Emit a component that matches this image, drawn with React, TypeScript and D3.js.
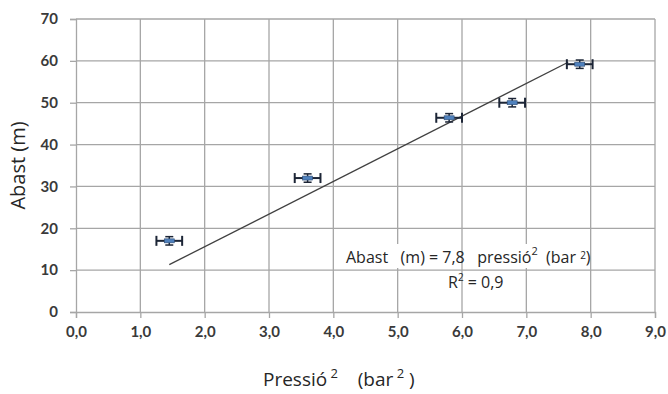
import React, { useEffect, useRef } from 'react';
import * as d3 from 'd3';

// pressure squared (bar^2) vs reach (m)
const pressio = [1.45, 3.6, 5.8, 6.78, 7.83];
const abast = [17.0, 32.0, 46.4, 50.0, 59.2];
const errX = [0.2, 0.2, 0.2, 0.2, 0.2];
const errY = [1.0, 1.0, 1.0, 1.0, 1.0];
const trendRange = [1.45, 7.65];
const slope = 7.8;
const xTicks = [0, 1, 2, 3, 4, 5, 6, 7, 8, 9];
const yTicks = [0, 10, 20, 30, 40, 50, 60, 70];

const App = () => {
  const ref = useRef<SVGSVGElement>(null);

  useEffect(() => {
    const svg = d3.select(ref.current);
    svg.selectAll('*').remove();

    const x = d3.scaleLinear().domain([0, 9]).range([76, 655]);
    const y = d3.scaleLinear().domain([0, 70]).range([312, 19]);
    const grid = '#a6a6a6';

    // gridlines
    svg.append('g').selectAll('line').data(xTicks.slice(1)).join('line')
      .attr('x1', d => x(d)).attr('x2', d => x(d))
      .attr('y1', y(70)).attr('y2', y(0))
      .attr('stroke', grid).attr('stroke-width', 1.3);
    svg.append('g').selectAll('line').data(yTicks.slice(1)).join('line')
      .attr('x1', x(0)).attr('x2', x(9))
      .attr('y1', d => y(d)).attr('y2', d => y(d))
      .attr('stroke', grid).attr('stroke-width', 1.3);

    // axes
    const xAxis = d3.axisBottom(x).tickValues(xTicks).tickSize(6)
      .tickFormat(d => d3.format('.1f')(d as number).replace('.', ','));
    const gx = svg.append('g').attr('transform', `translate(0,${y(0)})`).call(xAxis);
    gx.select('.domain').attr('stroke', grid).attr('stroke-width', 1.3);
    gx.selectAll('.tick line').attr('stroke', grid).attr('stroke-width', 1.3);
    gx.selectAll('.tick text').attr('dy', '1.05em');

    const yAxis = d3.axisLeft(y).tickValues(yTicks).tickSize(6).tickPadding(12);
    const gy = svg.append('g').attr('transform', `translate(${x(0)},0)`).call(yAxis);
    gy.select('.domain').attr('stroke', grid).attr('stroke-width', 1.3);
    gy.selectAll('.tick line').attr('stroke', grid).attr('stroke-width', 1.3);

    svg.selectAll('.tick text')
      .attr('fill', '#3a3a3a')
      .style('font', 'bold 15px Lato');

    // trendline
    svg.append('line')
      .attr('x1', x(trendRange[0])).attr('y1', y(slope * trendRange[0]))
      .attr('x2', x(trendRange[1])).attr('y2', y(slope * trendRange[1]))
      .attr('stroke', '#404040').attr('stroke-width', 1.3);

    // error bars + markers
    const pts = pressio.map((p, i) => ({ p, a: abast[i], ex: errX[i], ey: errY[i] }));
    const g = svg.append('g').selectAll('g').data(pts).join('g');
    const ink = '#1c2536';
    g.append('line')
      .attr('x1', d => x(d.p - d.ex)).attr('x2', d => x(d.p + d.ex))
      .attr('y1', d => y(d.a)).attr('y2', d => y(d.a))
      .attr('stroke', ink).attr('stroke-width', 2);
    g.append('line')
      .attr('x1', d => x(d.p - d.ex)).attr('x2', d => x(d.p - d.ex))
      .attr('y1', d => y(d.a) - 5).attr('y2', d => y(d.a) + 5)
      .attr('stroke', ink).attr('stroke-width', 2);
    g.append('line')
      .attr('x1', d => x(d.p + d.ex)).attr('x2', d => x(d.p + d.ex))
      .attr('y1', d => y(d.a) - 5).attr('y2', d => y(d.a) + 5)
      .attr('stroke', ink).attr('stroke-width', 2);
    g.append('line')
      .attr('x1', d => x(d.p)).attr('x2', d => x(d.p))
      .attr('y1', d => y(d.a + d.ey)).attr('y2', d => y(d.a - d.ey))
      .attr('stroke', ink).attr('stroke-width', 1.5);
    [1, -1].forEach(s => {
      g.append('line')
        .attr('x1', d => x(d.p) - 4).attr('x2', d => x(d.p) + 4)
        .attr('y1', d => y(d.a + s * d.ey)).attr('y2', d => y(d.a + s * d.ey))
        .attr('stroke', ink).attr('stroke-width', 1.5);
    });
    g.append('rect')
      .attr('x', d => x(d.p) - 5).attr('y', d => y(d.a) - 2)
      .attr('width', 10).attr('height', 4)
      .attr('fill', '#4f81bd').attr('stroke', '#2c4a73').attr('stroke-width', 0.6);

    // equation label
    svg.append('rect').attr('x', 340).attr('y', 244).attr('width', 282).attr('height', 24)
      .attr('fill', '#fff');
    [6, 8].forEach(v => svg.append('line')
      .attr('x1', x(v)).attr('x2', x(v)).attr('y1', 244).attr('y2', 268)
      .attr('stroke', grid).attr('stroke-width', 1.3));

    const eq = svg.append('text').attr('x', 346).attr('y', 263)
      .attr('fill', '#262626').style('font', '16px "Open Sans"').style('white-space', 'pre');
    eq.append('tspan').text('Abast   (m) = 7,8   pressió');
    eq.append('tspan').attr('dy', -8).style('font-size', '11px').text('2');
    eq.append('tspan').attr('dy', 8).text('  (bar ');
    eq.append('tspan').attr('dy', -4).style('font-size', '10px').text('2');
    eq.append('tspan').attr('dy', 4).text(')');

    const r2 = svg.append('text').attr('x', 448).attr('y', 288)
      .attr('fill', '#262626').style('font', '16px "Open Sans"').style('white-space', 'pre');
    r2.append('tspan').text('R');
    r2.append('tspan').attr('dy', -7).style('font-size', '10px').text('2');
    r2.append('tspan').attr('dy', 7).text(' = 0,9');

    // axis titles
    svg.append('text')
      .attr('transform', `translate(25,${y(35)}) rotate(-90)`)
      .attr('text-anchor', 'middle')
      .attr('fill', '#262626')
      .style('font', '20px "Open Sans"')
      .text('Abast (m)');

    const xt = svg.append('text').attr('x', 263).attr('y', 386)
      .attr('fill', '#262626').style('font', '19px "Open Sans"').style('white-space', 'pre');
    xt.append('tspan').text('Pressió');
    xt.append('tspan').attr('dy', -8).style('font-size', '13px').text(' 2');
    xt.append('tspan').attr('dy', 8).text('    (bar');
    xt.append('tspan').attr('dy', -8).style('font-size', '13px').text(' 2');
    xt.append('tspan').attr('dy', 8).text(' )');
  }, []);

  return (
    <svg ref={ref} width="668" height="394"
      style={{ position: 'absolute', left: 0, top: 0, background: '#fff' }}></svg>
  );
};

export default App;
